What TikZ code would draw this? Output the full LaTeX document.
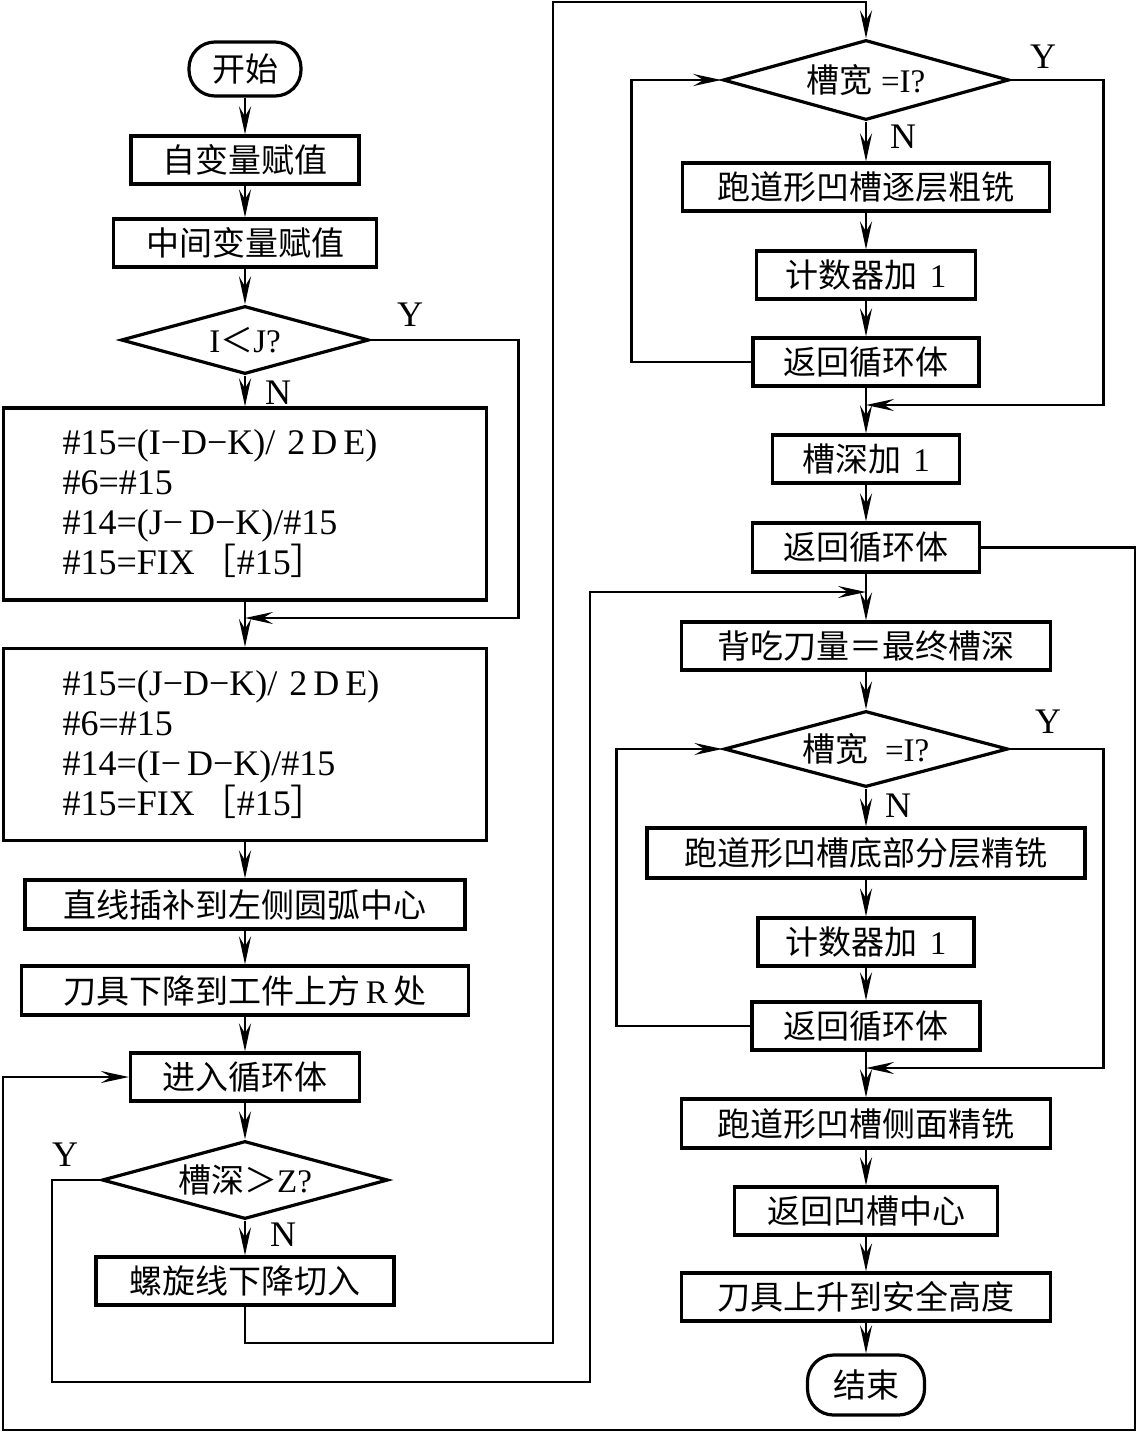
\documentclass[tikz,border=0pt]{standalone}
\usepackage{fontspec}
\setmainfont{Liberation Serif}
\newfontfamily\cjk{Noto Sans CJK SC}
\newcommand{\zh}[1]{{\cjk #1}}
\usetikzlibrary{arrows.meta,shapes.geometric}

\begin{document}
\begin{tikzpicture}[
  x=0.5pt, y=-0.5pt,
  font=\fontsize{16.5pt}{20pt}\selectfont,
  box/.style={draw, line width=1.6pt, minimum height=24pt, inner sep=2pt},
  term/.style={draw, line width=1.6pt, rounded corners=13pt, minimum height=27pt},
  dec/.style={diamond, draw, line width=1.6pt, inner sep=0pt, aspect=3.6},
  calcbox/.style={draw, line width=1.6pt, align=left, text width=182.5pt, inner xsep=29.5pt, minimum height=96pt, font=\fontsize{18pt}{20pt}\selectfont},
  yn/.style={font=\fontsize{18pt}{20pt}\selectfont, inner sep=0pt},
  arrow/.style={-{Stealth[length=14pt,width=6pt,inset=5pt]}, line width=1.3pt}
]
\useasboundingbox (0,0) rectangle (1137,1435);

% left column
\node[term, minimum width=56pt] (start) at (245,69) {\zh{开始}};
\node[box, minimum width=114pt] (zbl) at (245,160) {\zh{自变量赋值}};
\node[box, minimum width=131.5pt] (zjbl) at (245,243) {\zh{中间变量赋值}};
\node[dec, minimum width=124pt, minimum height=34pt] (dIJ) at (245,340) {I\zh{＜}J?};
\node[calcbox] (calcA) at (245,504) {\#15=(I−D−K)/ 2\,D\,E)\\ \#6=\#15\\ \#14=(J−\,D−K)/\#15\\ \#15=FIX\,\zh{［}\#15\zh{］}};
\node[calcbox] (calcB) at (245,744.5) {\#15=(J−D−K)/ 2\,D\,E)\\ \#6=\#15\\ \#14=(I−\,D−K)/\#15\\ \#15=FIX\,\zh{［}\#15\zh{］}};
\node[box, minimum width=220pt, minimum height=24.5pt] (line) at (245,904.5) {\zh{直线插补到左侧圆弧中心}};
\node[box, minimum width=223.5pt, minimum height=24.5pt] (down) at (245,990.5) {\zh{刀具下降到工件上方}\,R\,\zh{处}};
\node[box, minimum width=114.5pt] (enter) at (245,1077) {\zh{进入循环体}};
\node[dec, minimum width=143pt, minimum height=39pt] (dZ) at (245,1180) {\zh{槽深＞}Z?};
\node[box, minimum width=149pt] (helix) at (245,1281) {\zh{螺旋线下降切入}};

% right column
\node[dec, minimum width=143pt, minimum height=40pt] (dW1) at (866,80) {\zh{槽宽} =I?};
\node[box, minimum width=183.5pt] (rough) at (866,187) {\zh{跑道形凹槽逐层粗铣}};
\node[box, minimum width=109.5pt] (cnt1) at (866,275) {\zh{计数器加}\hspace{6pt}1};
\node[box, minimum width=113pt] (ret1) at (866,362) {\zh{返回循环体}};
\node[box, minimum width=93.5pt] (depth) at (866,459) {\zh{槽深加}\hspace{6pt}1};
\node[box, minimum width=113.5pt, minimum height=24.5pt] (ret2) at (866,547.5) {\zh{返回循环体}};
\node[box, minimum width=184.5pt] (final) at (866,646) {\zh{背吃刀量＝最终槽深}};
\node[dec, minimum width=142pt, minimum height=38pt] (dW2) at (866,749) {\zh{槽宽}\ \ =I?};
\node[box, minimum width=219pt, minimum height=25pt] (bottom) at (866,853) {\zh{跑道形凹槽底部分层精铣}};
\node[box, minimum width=108pt] (cnt2) at (866,942) {\zh{计数器加}\hspace{6pt}1};
\node[box, minimum width=114pt] (ret3) at (866,1026) {\zh{返回循环体}};
\node[box, minimum width=184.5pt, minimum height=24.5pt] (side) at (866,1123.5) {\zh{跑道形凹槽侧面精铣}};
\node[box, minimum width=131.5pt] (back) at (866,1211) {\zh{返回凹槽中心}};
\node[box, minimum width=184.5pt] (up) at (866,1297) {\zh{刀具上升到安全高度}};
\node[term, minimum width=58.5pt, minimum height=30pt] (stop) at (866,1385) {\zh{结束}};

% Y / N
\node[yn] (yIJ) at (410,315) {Y};
\node[yn] (nIJ) at (278,393) {N};
\node[yn] (yZ) at (65,1155) {Y};
\node[yn] (nZ) at (283,1235) {N};
\node[yn] (yW1) at (1043,57) {Y};
\node[yn] (nW1) at (903,137) {N};
\node[yn] (yW2) at (1048,722) {Y};
\node[yn] (nW2) at (898,806) {N};

% junctions and corners
\coordinate (jA) at (245,618);
\coordinate (jB) at (866,592);
\coordinate (jC) at (866,405);
\coordinate (jD) at (866,1068);
\coordinate (c1) at (553,1343);
\coordinate (c2) at (553,2);
\coordinate (c3) at (52,1382);
\coordinate (c4) at (590,1382);
\coordinate (c6) at (1135,1430);
\coordinate (c7) at (3,1430);

\draw[arrow] (start) -- (zbl);
\draw[arrow] (zbl) -- (zjbl);
\draw[arrow] (zjbl) -- (dIJ);
\draw[arrow] (dIJ) -- (calcA);
\draw[arrow] (dIJ.east) -- ++(148,0) |- (jA);
\draw[arrow] (calcA) -- (calcB);
\draw[arrow] (calcB) -- (line);
\draw[arrow] (line) -- (down);
\draw[arrow] (down) -- (enter);
\draw[arrow] (enter) -- (dZ);
\draw[arrow] (dZ) -- (helix);
\draw[arrow] (helix.south) |- (c1) -- (c2) -| (dW1.north);
\draw[arrow] (dZ.west) -| (c3) -- (c4) |- (jB);

\draw[arrow] (dW1) -- (rough);
\draw[arrow] (rough) -- (cnt1);
\draw[arrow] (cnt1) -- (ret1);
\draw[arrow] (ret1.west) -- ++(-120,0) |- (dW1.west);
\draw[arrow] (dW1.east) -- ++(93,0) |- (jC);
\draw[arrow] (ret1) -- (depth);
\draw[arrow] (depth) -- (ret2);
\draw[arrow] (ret2.east) -| (c6) -- (c7) |- (enter.west);
\draw[arrow] (ret2) -- (final);
\draw[arrow] (final) -- (dW2);
\draw[arrow] (dW2) -- (bottom);
\draw[arrow] (bottom) -- (cnt2);
\draw[arrow] (cnt2) -- (ret3);
\draw[arrow] (ret3.west) -- ++(-134,0) |- (dW2.west);
\draw[arrow] (dW2.east) -- ++(94,0) |- (jD);
\draw[arrow] (ret3) -- (side);
\draw[arrow] (side) -- (back);
\draw[arrow] (back) -- (up);
\draw[arrow] (up) -- (stop);
\end{tikzpicture}
\end{document}
